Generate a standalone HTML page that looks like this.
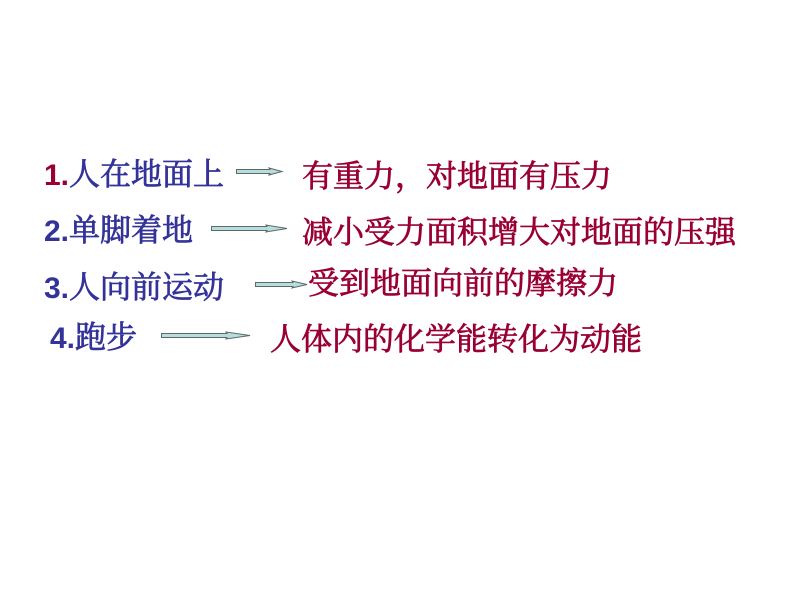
<!DOCTYPE html>
<html><head><meta charset="utf-8"><style>
html,body{margin:0;padding:0;background:#fff}
body{width:800px;height:600px;position:relative;overflow:hidden}
.t{position:absolute;white-space:nowrap;font-size:31px;line-height:36px;font-family:"Liberation Sans","Noto Serif CJK SC",serif;-webkit-text-stroke:.75px currentColor}
.b{color:#333399}.r{color:#990033}
.n{font-weight:bold;font-size:30px;-webkit-text-stroke:0}
svg{position:absolute;left:0;top:0}
</style></head><body>
<div class="t b" style="left:44px;top:157px"><span class="n"><span class="r">1.</span></span>人在地面上</div>
<div class="t b" style="left:44px;top:213px"><span class="n">2.</span>单脚着地</div>
<div class="t b" style="left:44px;top:270px"><span class="n">3.</span>人向前运动</div>
<div class="t b" style="left:50px;top:320px"><span class="n">4.</span>跑步</div>
<div class="t r" style="left:302px;top:159px">有重力，对地面有压力</div>
<div class="t r" style="left:302px;top:215px">减小受力面积增大对地面的压强</div>
<div class="t r" style="left:308px;top:266px">受到地面向前的摩擦力</div>
<div class="t r" style="left:270px;top:322px">人体内的化学能转化为动能</div>
<svg width="800" height="600" fill="#b9dcdc" stroke="#5a6a6a" stroke-width="1">
<path d="M236.500 169.500H270L269 168L282 171.500L269 175L270 173.500H236.500Z"/>
<path d="M211.500 226.500H267L266 225L287 228.500L266 232L267 230.500H211.500Z"/>
<path d="M255.500 282.500H293L292 281L307 284.500L292 288L293 286.500H255.500Z"/>
<path d="M161.500 333.500H227L226 332L250 335.500L226 339L227 337.500H161.500Z"/>
</svg>
</body></html>
